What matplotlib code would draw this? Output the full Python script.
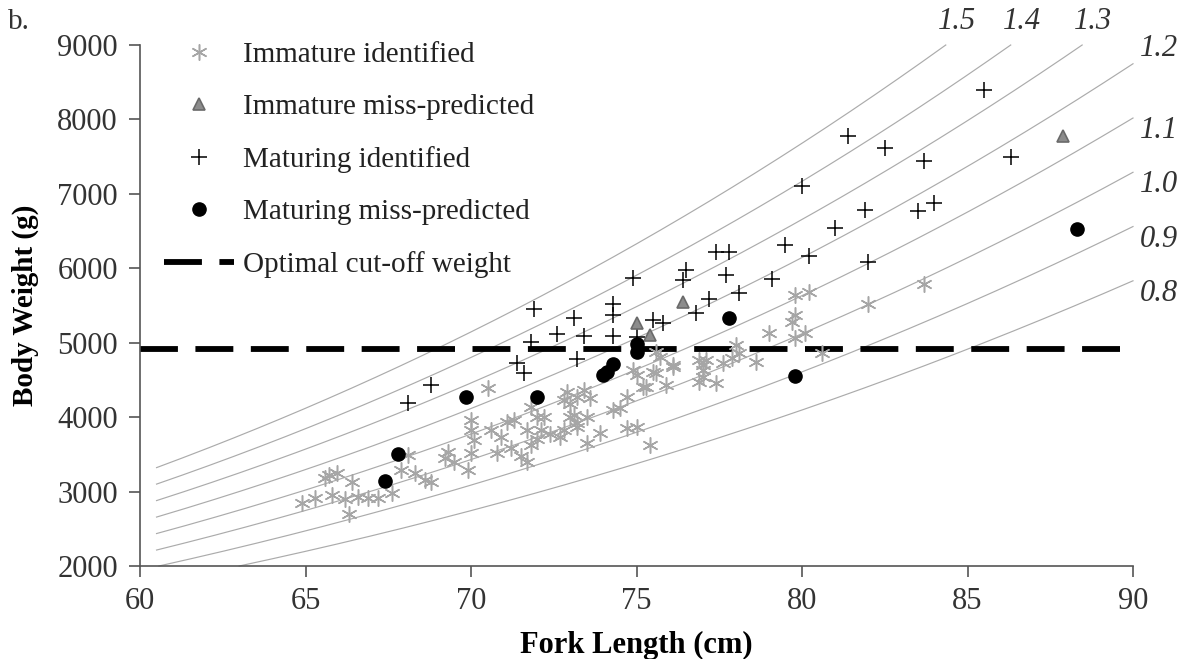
import numpy as np
import matplotlib
matplotlib.use("Agg")
import matplotlib.pyplot as plt
from matplotlib.lines import Line2D

plt.rcParams['font.family'] = ['Liberation Serif', 'DejaVu Serif']

# ---------------- data ----------------
imm_id_L = [64.9, 65.3, 65.6, 65.7, 65.8, 65.95, 66.2, 66.3, 66.4, 66.6, 66.9, 67.2, 67.6, 67.9,
            68.1, 68.3, 68.6, 68.8, 69.2, 69.3, 69.5, 69.9, 70.0, 70.0, 70.1, 70.0, 70.5, 70.6,
            70.8, 70.9, 71.1, 71.2, 71.3, 71.5, 71.7, 71.7, 71.8, 71.8, 72.0, 72.0, 72.1, 72.2,
            72.4, 72.7, 72.8, 72.8, 72.9, 73.0, 73.0, 73.2, 73.2, 73.1, 73.2, 73.4, 73.5, 73.5,
            73.6, 73.9, 74.3, 74.5, 74.7, 74.7, 74.9, 75.0, 75.0, 75.2, 75.3, 75.4, 75.5, 75.6,
            75.6, 75.7, 75.9, 76.1, 76.1, 76.9, 76.9, 77.0, 77.0, 77.0, 77.1, 77.4, 77.6, 77.9,
            78.0, 78.1, 78.6, 79.0, 79.7, 79.8, 79.8, 79.8, 80.1, 80.2, 80.6, 82.0, 83.7]
imm_id_W = [2850, 2910, 3180, 3220, 2950, 3250, 2900, 2700, 3130, 2930, 2910, 2910, 2980, 3290,
            3490, 3250, 3150, 3130, 3450, 3530, 3400, 3290, 3960, 3830, 3690, 3520, 4390, 3830,
            3520, 3730, 3930, 3580, 3960, 3480, 3830, 3400, 3620, 4130, 4000, 3700, 3830, 4000,
            3780, 3730, 4230, 3830, 4340, 4000, 4180, 3920, 4270, 4030, 3870, 4360, 4000, 3650,
            4260, 3790, 4090, 4120, 4270, 3850, 4630, 4560, 3870, 4400, 4400, 3620, 4610, 4590,
            4870, 4810, 4430, 4700, 4670, 4770, 4470, 4630, 4700, 4540, 4770, 4460, 4730, 4790,
            4970, 4860, 4740, 5130, 5280, 5640, 5370, 5060, 5130, 5680, 4860, 5520, 5790]

imm_miss_L = [75.0, 75.4, 76.4, 87.9]
imm_miss_W = [5260, 5100, 5550, 7780]

mat_id_L = [68.1, 68.8, 71.4, 71.6, 71.8, 71.9, 72.6, 73.1, 73.2, 73.4, 74.3, 74.3, 74.3, 74.9,
            75.0, 75.5, 75.8, 76.4, 76.5, 76.8, 77.2, 77.4, 77.7, 77.8, 78.1, 79.1, 79.5, 80.0,
            80.2, 81.0, 81.4, 81.9, 82.0, 82.5, 83.5, 83.7, 84.0, 85.5, 86.3]
mat_id_W = [4190, 4430, 4730, 4590, 5010, 5450, 5120, 5330, 4780, 5090, 5520, 5370, 5090, 5870,
            5080, 5300, 5260, 5840, 5980, 5400, 5590, 6220, 5910, 6220, 5670, 5850, 6310, 7100,
            6160, 6540, 7780, 6780, 6080, 7620, 6770, 7440, 6880, 8400, 7500]

mat_miss_L = [67.4, 67.8, 69.85, 72.0, 74.0, 74.1, 74.3, 75.0, 75.0, 77.8, 79.8, 88.3]
mat_miss_W = [3140, 3500, 4270, 4270, 4560, 4610, 4710, 4980, 4880, 5330, 4550, 6530]

cutoff_weight = 4920
condition_K = [1.5, 1.4, 1.3, 1.2, 1.1, 1.0, 0.9, 0.8]
k_labels = ['1.5', '1.4', '1.3', '1.2', '1.1', '1.0', '0.9', '0.8']

x_ticks = [60, 65, 70, 75, 80, 85, 90]
y_ticks = [2000, 3000, 4000, 5000, 6000, 7000, 8000, 9000]

# ---------------- figure ----------------
fig = plt.figure(figsize=(11.89, 6.59), dpi=100)
ax = fig.add_axes([140/1189, 1-566/659, (1133-140)/1189, (566-45)/659])
ax.set_xlim(60, 90)
ax.set_ylim(2000, 9000)

LBL = dict(style='italic', fontsize=22, color='#333333', ha='center', va='center',
           textcoords='offset points', annotation_clip=False)

# condition factor isolines  W = K * L^3 / 100
Wtop = 9000.0
for K, lab in zip(condition_K, k_labels):
    Lstart = max(60.5, (2000 * 100 / K) ** (1 / 3))
    Lend = min(90.0, (Wtop * 100 / K) ** (1 / 3))
    L_grid = np.linspace(Lstart, Lend, 300)
    W = K * L_grid**3 / 100.0
    ax.plot(L_grid, W, color='#ababab', lw=0.85, zorder=1, clip_on=False)
    Wend = W[-1]
    if Lend < 90.0:
        ax.annotate(lab, (Lend, Wend), xytext=(8, 17), **LBL)
    elif K == 1.2:
        ax.annotate(lab, (Lend, Wend), xytext=(19, 11), **LBL)
    else:
        ax.annotate(lab, (Lend, Wend), xytext=(19, -9), **LBL)

# cut-off line
ax.axhline(cutoff_weight, color='black', lw=4.2, dashes=(6.5, 3.0), dash_capstyle='butt', zorder=2)

# points
ax.plot(imm_id_L, imm_id_W, ls='none', marker=(6, 2, 0), ms=11.5, mew=1.1, color='#a6a6a6', zorder=3)
ax.plot(mat_id_L, mat_id_W, ls='none', marker='+', ms=11, mew=1.1, color='black', zorder=4)
ax.plot(imm_miss_L, imm_miss_W, ls='none', marker='^', ms=8, mew=1.2, mfc='#8c8c8c', mec='#6a6a6a', zorder=5)
ax.plot(mat_miss_L, mat_miss_W, ls='none', marker='o', ms=9.5, color='black', zorder=5)

# axes styling
for s in ['top', 'right']:
    ax.spines[s].set_visible(False)
for s in ['left', 'bottom']:
    ax.spines[s].set_color('#555555')
    ax.spines[s].set_linewidth(1.2)
ax.set_xticks(x_ticks)
ax.set_yticks(y_ticks)
ax.tick_params(direction='out', length=8, width=1.2, color='#555555', labelsize=22,
               labelcolor='#333333')
ax.tick_params(axis='y', pad=8)
ax.tick_params(axis='x', pad=7)

ax.set_xlabel('Fork Length (cm)', fontsize=22, fontweight='bold', labelpad=11)
ax.set_ylabel('Body Weight (g)', fontsize=21, fontweight='bold', labelpad=13)

fig.text(8/1189, 1-22/659, 'b.', fontsize=21, va='center', ha='left', color='#333333')

# legend
handles = [
    Line2D([], [], ls='none', marker=(6, 2, 0), ms=11.5, mew=1.1, color='#a6a6a6'),
    Line2D([], [], ls='none', marker='^', ms=8, mew=1.2, mfc='#8c8c8c', mec='#6a6a6a'),
    Line2D([], [], ls='none', marker='+', ms=11, mew=1.1, color='black'),
    Line2D([], [], ls='none', marker='o', ms=9.5, color='black'),
    Line2D([], [], color='black', lw=4.2, dashes=(6.5, 3.0), dash_capstyle='butt'),
]
labels = ['Immature identified', 'Immature miss-predicted', 'Maturing identified',
          'Maturing miss-predicted', 'Optimal cut-off weight']
leg = ax.legend(handles, labels, loc='upper left', bbox_to_anchor=(164/1189, 1-42/659),
                bbox_transform=fig.transFigure, frameon=False, fontsize=21,
                handlelength=2.4, handletextpad=0.3, labelspacing=0.88, borderaxespad=0,
                borderpad=0)
for t in leg.get_texts():
    t.set_color('#222222')

fig.savefig('out.png', dpi=100)
